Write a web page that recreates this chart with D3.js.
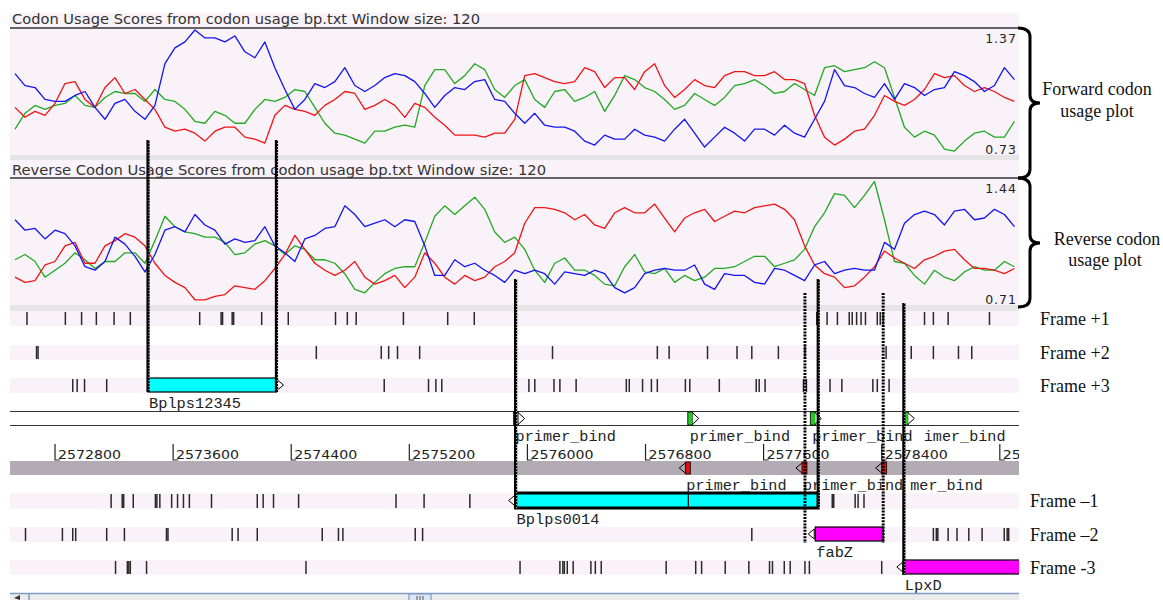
<!DOCTYPE html>
<html>
<head>
<meta charset="utf-8">
<script src="https://cdn.jsdelivr.net/npm/d3@7/dist/d3.min.js"></script>
<style>
  body { margin: 0; background: #fff; }
</style>
</head>
<body>
<svg id="chart"></svg>
<script>
// ---- sequence window shown ----
const seqStart = 2572495;
const seqEnd = 2579330;

// ---- codon usage plots (one value per sliding window) ----
const windowStart = 2572529;
const windowStep = 67.7;
const fwdMax = 1.37, fwdMin = 0.73;
const revMax = 1.44, revMin = 0.71;

const fwdRed = [0.97,0.92,0.95,0.93,0.99,1.09,1.10,1.01,0.97,1.07, 1.12,1.04,1.06,1.01,0.96,0.87,0.85,0.86,0.84,0.80,
  0.85,0.87,0.87,0.82,0.81,0.79,0.93,0.98,0.96,0.95, 0.93,0.98,1.01,1.05,1.04,0.96,0.98,1.01,0.98,0.92,
  0.99,0.97,0.92,0.88,0.83,0.83,0.83,0.82,0.84,0.84, 0.91,1.13,1.14,1.12,1.10,1.09,1.10,1.17,1.15,1.07,
  1.12,1.12,1.06,1.15,1.19,1.08,1.02,1.06,1.11,1.08, 1.07,1.13,1.15,1.15,1.13,1.13,1.15,1.11,1.11,1.09,
  0.93,0.82,0.78,0.81,0.85,0.86,0.93,1.03,1.00,0.98, 1.01,1.06,1.14,1.12,1.13,1.08,1.05,1.07,1.05,1.02, 1.00];
const fwdGreen = [0.86,0.94,0.98,0.96,0.98,0.99,1.03,0.98,0.97,1.02, 1.05,1.04,1.04,1.00,1.06,1.01,1.00,0.96,0.90,0.89,
  0.95,0.93,0.89,0.89,0.96,1.01,1.00,1.02,1.06,1.05, 0.97,0.89,0.84,0.83,0.81,0.79,0.85,0.85,0.87,0.88,
  0.87,1.08,1.16,1.16,1.09,1.13,1.19,1.16,1.06,1.02, 1.08,1.11,1.01,0.97,1.05,1.06,1.00,1.02,1.05,0.95,
  1.03,1.13,1.11,1.07,1.05,1.01,0.96,0.98,1.04,1.01, 0.98,1.02,1.08,1.09,1.11,1.08,1.04,1.05,1.09,1.06,
  1.03,1.17,1.18,1.15,1.16,1.17,1.20,1.17,1.02,0.87, 0.82,0.85,0.83,0.76,0.75,0.80,0.84,0.85,0.82,0.82, 0.90];
const fwdBlue = [1.14,1.08,1.07,1.01,1.00,1.00,1.03,1.05,0.97,0.91, 0.99,1.01,0.95,0.91,0.98,1.19,1.27,1.30,1.36,1.32,
  1.32,1.30,1.33,1.25,1.22,1.30,1.17,1.06,0.96,1.01, 1.09,1.07,1.10,1.17,1.08,1.05,1.08,1.12,1.14,1.13,
  1.10,1.04,0.97,1.03,1.07,1.06,1.10,1.11,1.01,1.00, 0.94,0.89,0.94,0.88,0.87,0.87,0.85,0.80,0.78,0.83,
  0.81,0.81,0.86,0.83,0.82,0.80,0.86,0.91,0.84,0.77, 0.82,0.87,0.84,0.80,0.86,0.86,0.83,0.88,0.84,0.82,
  0.91,1.00,1.16,1.08,1.07,1.04,1.02,1.09,1.01,1.09, 1.07,1.03,1.06,1.07,1.15,1.13,1.10,1.05,1.08,1.17, 1.11];

const revRed = [0.87,0.84,0.85,0.94,0.96,1.05,1.07,0.95,0.95,1.05, 1.08,1.12,1.10,1.05,0.95,0.88,0.84,0.81,0.74,0.74,
  0.76,0.77,0.82,0.81,0.80,0.85,0.92,1.00,1.11,1.03, 0.95,0.91,0.88,0.91,0.96,0.87,0.83,0.85,0.88,0.81,
  0.87,1.01,0.95,0.87,0.83,0.88,0.85,0.87,0.93,0.96, 1.01,1.18,1.27,1.27,1.26,1.24,1.20,1.23,1.17,1.15,
  1.24,1.27,1.24,1.24,1.29,1.21,1.13,1.21,1.24,1.26, 1.19,1.22,1.25,1.24,1.27,1.28,1.29,1.26,1.20,1.05,
  0.94,0.89,0.87,0.81,0.82,0.87,0.93,1.02,0.98,0.95, 0.92,0.97,0.99,1.02,1.03,0.97,0.92,0.92,0.91,0.89, 0.92];
const revGreen = [0.97,1.00,0.96,0.87,0.91,0.95,1.01,0.97,0.92,0.96, 0.96,1.01,1.01,0.95,1.08,1.22,1.16,1.13,1.12,1.10,
  1.10,1.07,1.00,1.01,1.06,1.08,1.05,1.00,1.05,1.03, 0.97,0.97,0.95,0.89,0.80,0.78,0.84,0.89,0.92,0.93,
  0.93,1.07,1.22,1.28,1.23,1.28,1.33,1.26,1.13,1.07, 1.10,1.03,0.91,0.84,0.95,0.98,0.91,0.91,0.88,0.83,
  0.82,0.93,1.00,0.90,0.89,0.92,0.84,0.88,0.85,0.87, 0.92,0.92,0.93,0.96,0.99,0.99,0.93,0.95,0.97,1.03,
  1.16,1.24,1.35,1.34,1.27,1.34,1.42,1.20,0.96,0.95, 0.88,0.83,0.91,0.87,0.85,0.90,0.93,0.91,0.91,0.96, 0.93];
const revBlue = [1.20,1.14,1.15,1.09,1.14,1.12,1.05,0.93,0.91,0.96, 1.10,1.06,0.99,0.90,1.00,1.14,1.16,1.13,1.23,1.17,
  1.14,1.06,1.09,1.07,1.08,1.16,1.05,1.01,0.96,1.09, 1.11,1.15,1.16,1.28,1.23,1.16,1.18,1.20,1.16,1.20,
  1.19,1.05,0.88,0.88,0.97,0.93,0.95,0.91,0.88,0.84, 0.91,0.89,0.91,0.89,0.83,0.90,0.89,0.88,0.91,0.89,
  0.81,0.78,0.81,0.89,0.91,0.92,0.91,0.91,0.94,0.83, 0.80,0.89,0.88,0.88,0.84,0.83,0.92,0.91,0.88,0.85,
  0.94,0.96,0.89,0.91,0.92,0.91,0.91,1.07,1.03,1.18, 1.23,1.25,1.23,1.17,1.25,1.26,1.20,1.21,1.26,1.23, 1.16];

// ---- stop codons in each reading frame ----
const frameNames = ['Frame +1', 'Frame +2', 'Frame +3', 'Frame \u20131', 'Frame \u20132', 'Frame -3'];
const stopsF1 = [2572610,2572870,2572980,2573080,2573200,2573310,2573780,2573925,2573935,2574000,2574010,2574200,2574380,
  2574700,2574780,2574840,2575160,2575460,2575640,2577960,2577970,2578030,2578100,2578180,2578200,2578230,2578260,
  2578290,2578370,2578390,2578410,2578690,2578750,2578850,2579130];
const stopsF2 = [2572675,2572685,2574570,2575010,2575060,2575120,2575270,2576170,2576880,2576960,2577220,2577420,
  2577520,2577700,2577880,2577970,2578430,2578600,2578750,2578920,2579010];
const stopsF3 = [2572920,2572950,2573000,2573150,2575030,2575330,2575380,2575420,2576010,2576050,2576180,2576220,
  2576330,2576670,2576690,2576780,2576840,2576880,2577070,2577100,2577300,2577550,2577570,2577610,2577870,2577890,
  2577970,2578050,2578130,2578340,2578370,2578450];
const stopsR1 = [2573180,2573255,2573265,2573330,2573480,2573490,2573510,2573590,2573630,2573670,2573710,2573860,
  2574170,2574210,2574280,2574450,2575110,2575300,2575610,2578065,2578075,2578220,2578240,2578280];
const stopsR2 = [2572600,2572850,2572920,2572940,2573150,2573270,2573555,2573565,2574000,2574040,2574170,2574610,
  2574720,2574750,2575240,2575290,2577520,2578750,2578770,2578780,2578850,2578910,2578990,2579080,2579230,2579250,2579260];
const stopsR3 = [2573210,2573290,2573300,2573310,2573420,2574500,2575950,2576220,2576240,2576250,2576270,2576310,
  2576430,2576460,2576500,2576940,2577140,2577180,2577340,2577500,2577640,2577660,2577740,2577780,2577880,2577910,2578400];

// ---- annotated genes ----
const geneNames = ['Bplps12345', 'Bplps0014', 'fabZ', 'LpxD'];
const geneFrames = [2, 3, 4, 5];
const geneStarts = [2573430, 2575920, 2577950, 2578550];
const geneEnds = [2574300, 2577970, 2578410, 2579800];
const geneStrands = [1, -1, -1, -1];
const geneColours = ['#00ffff', '#00ffff', '#ff00ff', '#ff00ff'];
const geneSplit = [null, 2577090, null, null];

// ---- primer binding sites ----
const primerFwd = [2575920, 2577100, 2577930, 2578560];
const primerRev = [2577090, 2577880, 2578420];
const primerLabel = 'primer_bind';

// ---- ruler ----
const rulerTicks = [2572800, 2573600, 2574400, 2575200, 2576000, 2576800, 2577600, 2578400, 2579200];

// ---- highlighted boundaries ----
const guideSolid = [2573430, 2574300, 2575920, 2577970, 2578550];
const guideDotted = [2577880, 2578410];

const W = 1163, H = 600;
const left = 10, right = 1019;
const pink = '#f9f2f9';
const sans = 'DejaVu Sans, Verdana, sans-serif';
const mono = 'Liberation Mono, Courier New, monospace';
const serif = 'Liberation Serif, Times New Roman, serif';
const charW = 9.2;

const svg = d3.select('#chart')
  .attr('width', W)
  .attr('height', H)
  .style('display', 'block');

svg.append('defs').append('clipPath').attr('id', 'panel')
  .append('rect').attr('x', left).attr('y', 0).attr('width', right - left).attr('height', H);

const x = d3.scaleLinear().domain([seqStart, seqEnd]).range([left, right]);
const panel = svg.append('g').attr('clip-path', 'url(#panel)');

// ---------- codon usage plots ----------
function drawPlot(cfg, reds, greens, blues) {
  const g = panel.append('g');
  g.append('rect').attr('x', left).attr('y', cfg.bgTop).attr('width', right - left)
    .attr('height', cfg.bottom - cfg.bgTop).attr('fill', pink);
  g.append('rect').attr('x', left).attr('y', cfg.bottom).attr('width', right - left)
    .attr('height', cfg.band).attr('fill', '#e6e4e6');

  g.append('text')
    .attr('x', 12).attr('y', cfg.titleY)
    .attr('font-family', sans).attr('font-size', 13.5).attr('fill', '#333')
    .attr('textLength', cfg.titleLen).attr('lengthAdjust', 'spacingAndGlyphs')
    .text(cfg.title);
  g.append('line').attr('x1', left).attr('x2', right).attr('y1', cfg.top).attr('y2', cfg.top)
    .attr('stroke', '#333').attr('stroke-width', 1.3);

  const y = d3.scaleLinear().domain([cfg.min, cfg.max]).range([cfg.bottom, cfg.top]);
  const line = d3.line()
    .x((d, i) => x(windowStart + i * windowStep))
    .y(d => y(d));

  [[greens, '#22a822'], [reds, '#f01414'], [blues, '#1414f0']].forEach(([vals, col]) => {
    g.append('path').datum(vals)
      .attr('d', line)
      .attr('fill', 'none')
      .attr('stroke', col)
      .attr('stroke-width', 1.3)
      .attr('stroke-linejoin', 'round');
  });

  g.append('text').attr('x', right - 2).attr('y', y(cfg.max) + 15)
    .attr('text-anchor', 'end').attr('font-family', sans).attr('font-size', 12.5)
    .attr('fill', '#222').attr('letter-spacing', 1).text(cfg.max.toFixed(2));
  g.append('text').attr('x', right - 2).attr('y', y(cfg.min) - 1)
    .attr('text-anchor', 'end').attr('font-family', sans).attr('font-size', 12.5)
    .attr('fill', '#222').attr('letter-spacing', 1).text(cfg.min.toFixed(2));
}

drawPlot({
  bgTop: 13, top: 28, bottom: 155, band: 5, titleY: 24, titleLen: 468,
  title: 'Codon Usage Scores from codon usage bp.txt  Window size: 120',
  min: fwdMin, max: fwdMax
}, fwdRed, fwdGreen, fwdBlue);

drawPlot({
  bgTop: 160, top: 178, bottom: 305, band: 6, titleY: 175, titleLen: 534,
  title: 'Reverse Codon Usage Scores from codon usage bp.txt  Window size: 120',
  min: revMin, max: revMax
}, revRed, revGreen, revBlue);

// ---------- frame tracks ----------
const frameRows = [[311, 326], [345, 360], [378, 393], [493, 509], [527, 542], [560, 575]];
const frameStops = [stopsF1, stopsF2, stopsF3, stopsR1, stopsR2, stopsR3];

frameRows.forEach((r, i) => {
  panel.append('rect').attr('x', left).attr('y', r[0]).attr('width', right - left)
    .attr('height', r[1] - r[0]).attr('fill', pink);
  panel.selectAll(null).data(frameStops[i]).enter()
    .append('line')
    .attr('x1', d => x(d)).attr('x2', d => x(d))
    .attr('y1', r[0] + 1).attr('y2', r[1] - 1)
    .attr('stroke', '#2a2a2a').attr('stroke-width', 1.5);

  svg.append('text')
    .attr('x', i < 3 ? 1040 : 1030).attr('y', (r[0] + r[1]) / 2 + 6)
    .attr('font-family', serif).attr('font-size', 18).attr('fill', '#111')
    .text(frameNames[i]);
});

// forward / reverse strand lines
[411.5, 425.5].forEach(yy => {
  panel.append('line').attr('x1', left).attr('x2', right).attr('y1', yy).attr('y2', yy)
    .attr('stroke', '#333').attr('stroke-width', 1.2);
});

// ruler band
panel.append('rect').attr('x', left).attr('y', 461).attr('width', right - left)
  .attr('height', 14).attr('fill', '#b3abb3');

// ---------- genes ----------
geneNames.forEach((name, i) => {
  const r = frameRows[geneFrames[i]];
  const x0 = x(geneStarts[i]), x1 = x(geneEnds[i]);
  const selected = name === 'Bplps0014';
  panel.append('rect')
    .attr('x', x0).attr('y', r[0]).attr('width', x1 - x0).attr('height', r[1] - r[0] - 1)
    .attr('fill', geneColours[i])
    .attr('stroke', '#000').attr('stroke-width', selected ? 3 : 1.2);
  if (geneSplit[i]) {
    panel.append('line').attr('x1', x(geneSplit[i])).attr('x2', x(geneSplit[i]))
      .attr('y1', r[0]).attr('y2', r[1] - 1).attr('stroke', '#000').attr('stroke-width', 1.2);
  }
  const ym = (r[0] + r[1]) / 2 - 0.5;
  const tip = geneStrands[i] > 0 ? x1 + 7 : x0 - 7;
  const base = geneStrands[i] > 0 ? x1 + 1 : x0 - 1;
  panel.append('path')
    .attr('d', `M${base},${ym - 5}L${tip},${ym}L${base},${ym + 5}Z`)
    .attr('fill', '#fff').attr('stroke', '#000').attr('stroke-width', 1);
  panel.append('text')
    .attr('x', x0 + 1).attr('y', r[1] + 15)
    .attr('font-family', mono).attr('font-size', 14).attr('fill', '#222')
    .attr('textLength', name.length * charW).attr('lengthAdjust', 'spacingAndGlyphs')
    .text(name);
});

// ---------- primer binding sites ----------
// a label that starts under the previous one only shows its uncovered tail
function primerLabels(sites, y, dx) {
  let prevEnd = -Infinity;
  sites.forEach(b => {
    let lx = x(b) + dx;
    let label = primerLabel;
    if (prevEnd > lx) {
      const skip = Math.round((prevEnd - lx) / charW);
      label = primerLabel.slice(skip);
      lx += skip * charW;
    }
    panel.append('text').attr('x', lx).attr('y', y)
      .attr('font-family', mono).attr('font-size', 14).attr('fill', '#222')
      .attr('textLength', label.length * charW - 1).attr('lengthAdjust', 'spacingAndGlyphs')
      .text(label);
    prevEnd = lx + label.length * charW + charW;
  });
}
primerLabels(primerFwd, 441, 0);
primerLabels(primerRev, 490, -2);

primerFwd.forEach(b => {
  const px = x(b);
  panel.append('rect').attr('x', px - 2).attr('y', 412).attr('width', 5).attr('height', 13)
    .attr('fill', '#22cc22').attr('stroke', '#000').attr('stroke-width', 0.8);
  panel.append('path').attr('d', `M${px + 3},${413}L${px + 9},${418.5}L${px + 3},${424}`)
    .attr('fill', '#fff').attr('stroke', '#000').attr('stroke-width', 1);
});
primerRev.forEach(b => {
  const px = x(b);
  panel.append('rect').attr('x', px - 3).attr('y', 462).attr('width', 5).attr('height', 12)
    .attr('fill', '#e01010').attr('stroke', '#000').attr('stroke-width', 0.8);
  panel.append('path').attr('d', `M${px - 3},${463}L${px - 9},${468}L${px - 3},${473}`)
    .attr('fill', 'none').attr('stroke', '#000').attr('stroke-width', 1);
});

// ---------- ruler ----------
const ruler = panel.append('g');
ruler.selectAll('path').data(rulerTicks).enter()
  .append('path')
  .attr('d', d => `M${x(d)},444V460H${x(d) + 5}`)
  .attr('fill', 'none').attr('stroke', '#222').attr('stroke-width', 1.2);
ruler.selectAll('text').data(rulerTicks).enter()
  .append('text')
  .attr('x', d => x(d) + 3).attr('y', 459)
  .attr('font-family', sans).attr('font-size', 12.5).attr('fill', '#222')
  .attr('textLength', 63).attr('lengthAdjust', 'spacingAndGlyphs')
  .text(d => d);

// ---------- boundary guides ----------
const guideSpans = [[140, 392], [140, 392], [279, 508], [279, 508], [303, 575]];
guideSolid.forEach((b, i) => {
  const gx = x(b);
  panel.append('line').attr('x1', gx).attr('x2', gx).attr('y1', guideSpans[i][0]).attr('y2', guideSpans[i][1])
    .attr('stroke', '#000').attr('stroke-width', 3.2);
  panel.append('line').attr('x1', gx + 1).attr('x2', gx + 1).attr('y1', guideSpans[i][0]).attr('y2', guideSpans[i][1])
    .attr('stroke', '#fff').attr('stroke-width', 0.8).attr('stroke-dasharray', '1,2');
});
guideDotted.forEach(b => {
  const gx = x(b);
  panel.append('line').attr('x1', gx).attr('x2', gx).attr('y1', 293).attr('y2', 543)
    .attr('stroke', '#000').attr('stroke-width', 3).attr('stroke-dasharray', '2,1.2');
});

// ---------- braces and side labels ----------
function brace(y0, y1, ym) {
  const x0 = right - 1, xs = 1030, xt = 1040;
  return `M${x0},${y0}Q${xs},${y0} ${xs},${y0 + 9}L${xs},${ym - 8}Q${xs},${ym} ${xt},${ym}` +
    `Q${xs},${ym} ${xs},${ym + 8}L${xs},${y1 - 9}Q${xs},${y1} ${x0},${y1}`;
}
svg.append('path').attr('d', brace(28, 178, 103))
  .attr('fill', 'none').attr('stroke', '#000').attr('stroke-width', 3);
svg.append('path').attr('d', brace(178, 307, 243))
  .attr('fill', 'none').attr('stroke', '#000').attr('stroke-width', 3);

const sideLabels = [['Forward codon', 1097, 95], ['usage plot', 1097, 117],
  ['Reverse codon', 1107, 245], ['usage plot', 1105, 266]];
sideLabels.forEach(([t, sx, sy]) => {
  svg.append('text').attr('x', sx).attr('y', sy).attr('text-anchor', 'middle')
    .attr('font-family', serif).attr('font-size', 18).attr('fill', '#111').text(t);
});

// ---------- scrollbar ----------
svg.append('rect').attr('x', left).attr('y', 593).attr('width', right - left).attr('height', 7).attr('fill', '#ececec');
svg.append('line').attr('x1', left).attr('x2', right).attr('y1', 593.5).attr('y2', 593.5)
  .attr('stroke', '#7f9cc4').attr('stroke-width', 1.5);
svg.append('path').attr('d', 'M14,598L20,595L20,600Z').attr('fill', '#333');
svg.append('line').attr('x1', 29).attr('x2', 29).attr('y1', 594).attr('y2', 600).attr('stroke', '#7f9cc4').attr('stroke-width', 1.5);
svg.append('rect').attr('x', 409).attr('y', 594).attr('width', 22).attr('height', 7)
  .attr('fill', '#dde6f2').attr('stroke', '#7f9cc4').attr('stroke-width', 1.2);
[417, 420, 423].forEach(tx => {
  svg.append('line').attr('x1', tx).attr('x2', tx).attr('y1', 596).attr('y2', 600).attr('stroke', '#555');
});
</script>
</body>
</html>
